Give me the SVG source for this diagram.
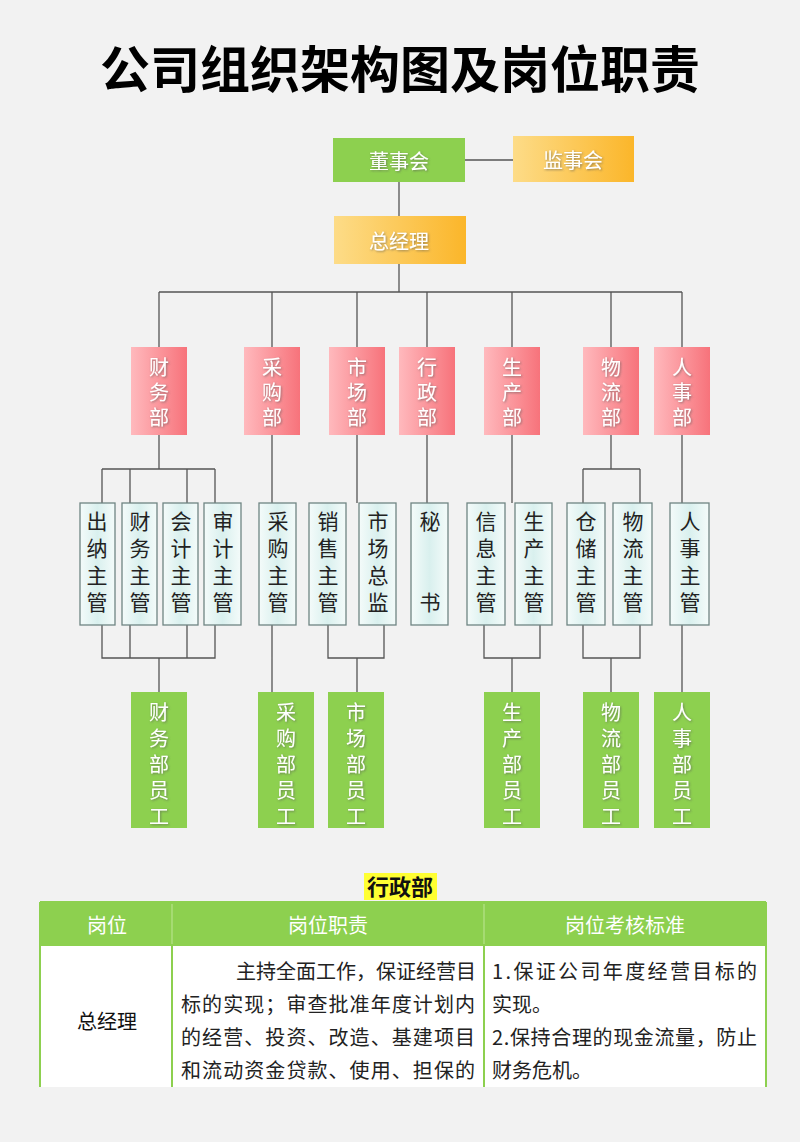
<svg xmlns="http://www.w3.org/2000/svg" width="800" height="1142" viewBox="0 0 800 1142">
<defs>
<linearGradient id="og" x1="0" y1="0" x2="1" y2="0"><stop offset="0" stop-color="#fddc88"/><stop offset="1" stop-color="#fbb62a"/></linearGradient>
<linearGradient id="pg" x1="0" y1="0" x2="1" y2="0"><stop offset="0" stop-color="#ffb9bd"/><stop offset="1" stop-color="#f7737b"/></linearGradient>
<linearGradient id="cg" x1="0" y1="0" x2="1" y2="0"><stop offset="0" stop-color="#f4fbfa"/><stop offset="0.5" stop-color="#d9f0ee"/><stop offset="1" stop-color="#f4fbfa"/></linearGradient>
<filter id="sh" x="-20%" y="-20%" width="140%" height="140%"><feDropShadow dx="1" dy="1" stdDeviation="0.8" flood-color="#555" flood-opacity="0.6"/></filter>
</defs>
<style>
text{font-family:"Noto Sans CJK SC","Noto Sans",sans-serif;text-anchor:middle;dominant-baseline:central}
.w{fill:#fff;font-size:20px;filter:url(#sh)}
.v{writing-mode:vertical-rl;text-anchor:start}
.dv{letter-spacing:5px}
.sv{letter-spacing:6px}
.k{fill:#222;font-size:21px;letter-spacing:6px}
.ln{stroke:#555;stroke-width:1.3;fill:none}
.g{fill:#8dd04f}
.c{fill:url(#cg);stroke:#6f8583;stroke-width:1.3}
.p{fill:url(#pg)}
.o{fill:url(#og)}
.tb{font-size:20px}
</style>
<rect width="800" height="1142" fill="#f2f2f2"/>
<text x="400" y="66" style="font-size:50px;font-weight:bold;fill:#000">公司组织架构图及岗位职责</text>
<g id="connectors" class="ln">
<path d="M465 160H513M399 182V216M399 264V292M159 292H682M159 292V347M272 292V347M357 292V347M427 292V347M512 292V347M611 292V347M682 292V347"/>
<path d="M159 435V469M102 469H215M102 469V503M130 469V503M187 469V503M215 469V503"/>
<path d="M272 435V503M357 435V503M427 435V503M682 435V503M611 435V469M583 469H640M583 469V503M640 469V503M512 435V503"/>
<path d="M102 625V658H215V625M130 625V658M187 625V658M159 658V692"/>
<path d="M272 625V692M328 625V658H384V625M357 658V692M484 625V658H540V625M512 658V692M583 625V658H640V625M611 658V692M682 625V692"/>
</g>
<g id="n-dongshihui"><rect class="g" x="333" y="138" width="132" height="44"/><text class="w" x="399" y="160">董事会</text></g>
<g id="n-jianshihui"><rect class="o" x="513" y="136" width="121" height="46"/><text class="w" x="573" y="159">监事会</text></g>
<g id="n-zongjingli"><rect class="o" x="334" y="216" width="132" height="48"/><text class="w" x="399" y="240">总经理</text></g>
<g id="d-caiwu"><rect class="p" x="131" y="347" width="56" height="88"/><text class="w v dv" x="159" y="357">财务部</text></g>
<g id="d-caigou"><rect class="p" x="244" y="347" width="56" height="88"/><text class="w v dv" x="272" y="357">采购部</text></g>
<g id="d-shichang"><rect class="p" x="329" y="347" width="56" height="88"/><text class="w v dv" x="357" y="357">市场部</text></g>
<g id="d-xingzheng"><rect class="p" x="399" y="347" width="56" height="88"/><text class="w v dv" x="427" y="357">行政部</text></g>
<g id="d-shengchan"><rect class="p" x="484" y="347" width="56" height="88"/><text class="w v dv" x="512" y="357">生产部</text></g>
<g id="d-wuliu"><rect class="p" x="583" y="347" width="56" height="88"/><text class="w v dv" x="611" y="357">物流部</text></g>
<g id="d-renshi"><rect class="p" x="654" y="347" width="56" height="88"/><text class="w v dv" x="682" y="357">人事部</text></g>
<g id="m-chuna"><rect class="c" x="80" y="503" width="35" height="122"/><text class="k v" x="97" y="511">出纳主管</text></g>
<g id="m-caiwu"><rect class="c" x="122" y="503" width="35" height="122"/><text class="k v" x="140" y="511">财务主管</text></g>
<g id="m-kuaiji"><rect class="c" x="163" y="503" width="35" height="122"/><text class="k v" x="181" y="511">会计主管</text></g>
<g id="m-shenji"><rect class="c" x="204" y="503" width="37" height="122"/><text class="k v" x="223" y="511">审计主管</text></g>
<g id="m-caigou"><rect class="c" x="259" y="503" width="37" height="122"/><text class="k v" x="278" y="511">采购主管</text></g>
<g id="m-xiaoshou"><rect class="c" x="309" y="503" width="37" height="122"/><text class="k v" x="328" y="511">销售主管</text></g>
<g id="m-shichang"><rect class="c" x="359" y="503" width="37" height="122"/><text class="k v" x="378" y="511">市场总监</text></g>
<g id="m-mishu"><rect class="c" x="411" y="503" width="37" height="122"/><text class="k v" x="430" y="511">秘　　书</text></g>
<g id="m-xinxi"><rect class="c" x="467" y="503" width="38" height="122"/><text class="k v" x="486" y="511">信息主管</text></g>
<g id="m-shengchan"><rect class="c" x="515" y="503" width="37" height="122"/><text class="k v" x="534" y="511">生产主管</text></g>
<g id="m-cangchu"><rect class="c" x="567" y="503" width="38" height="122"/><text class="k v" x="586" y="511">仓储主管</text></g>
<g id="m-wuliu"><rect class="c" x="613" y="503" width="39" height="122"/><text class="k v" x="633" y="511">物流主管</text></g>
<g id="m-renshi"><rect class="c" x="670" y="503" width="39" height="122"/><text class="k v" x="690" y="511">人事主管</text></g>
<g id="s-caiwu"><rect class="g" x="131" y="692" width="56" height="136"/><text class="w v sv" x="159" y="702">财务部员工</text></g>
<g id="s-caigou"><rect class="g" x="258" y="692" width="56" height="136"/><text class="w v sv" x="286" y="702">采购部员工</text></g>
<g id="s-shichang"><rect class="g" x="328" y="692" width="56" height="136"/><text class="w v sv" x="356" y="702">市场部员工</text></g>
<g id="s-shengchan"><rect class="g" x="484" y="692" width="56" height="136"/><text class="w v sv" x="512" y="702">生产部员工</text></g>
<g id="s-wuliu"><rect class="g" x="583" y="692" width="56" height="136"/><text class="w v sv" x="611" y="702">物流部员工</text></g>
<g id="s-renshi"><rect class="g" x="654" y="692" width="56" height="136"/><text class="w v sv" x="682" y="702">人事部员工</text></g>
<g id="table">
<rect x="364" y="873" width="73" height="27" fill="#ffff33"/>
<text x="400" y="885" style="font-size:22px;font-weight:bold;fill:#111">行政部</text>
<rect x="40" y="902" width="726" height="43" fill="#8dd04f"/>
<rect x="40" y="945" width="726" height="142" fill="#fff"/>
<path d="M40 902V1087M766 902V1087M40 902H766M40 945H766M172 945V1087M484 945V1087" stroke="#8dd04f" stroke-width="2" fill="none"/>
<path d="M172 904V944M484 904V944" stroke="#b6e38a" stroke-width="1.2"/>
<text x="107" y="924" class="tb" style="fill:#fff">岗位</text>
<text x="328" y="924" class="tb" style="fill:#fff">岗位职责</text>
<text x="625" y="924" class="tb" style="fill:#fff">岗位考核标准</text>
<text x="107" y="1020" class="tb" style="fill:#111">总经理</text>
<g style="fill:#222;font-size:20px">
<text x="476" y="970" style="text-anchor:end">主持全面工作，保证经营目</text>
<text x="328" y="1003" textLength="294">标的实现；审查批准年度计划内</text>
<text x="328" y="1036" textLength="294">的经营、投资、改造、基建项目</text>
<text x="328" y="1069" textLength="294">和流动资金贷款、使用、担保的</text>
<text x="492" y="970" style="text-anchor:start" textLength="265">1.保证公司年度经营目标的</text>
<text x="492" y="1003" style="text-anchor:start">实现。</text>
<text x="492" y="1036" style="text-anchor:start" textLength="265">2.保持合理的现金流量，防止</text>
<text x="492" y="1069" style="text-anchor:start">财务危机。</text>
</g>
</g>
</svg>
